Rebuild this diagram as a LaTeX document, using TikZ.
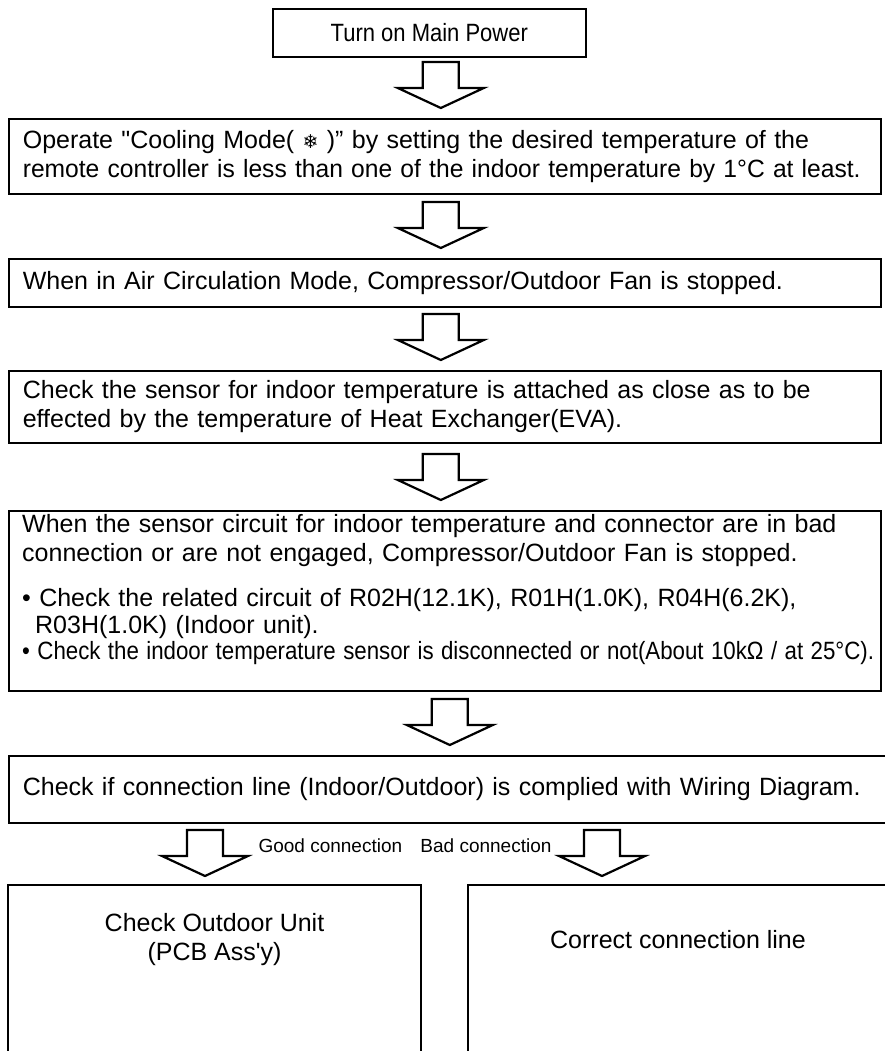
\documentclass[tikz,border=0pt]{standalone}
\usepackage{fontspec}
\usepackage{graphicx}
\newfontfamily\arial{Liberation Sans}
\newfontfamily\symfont{DejaVu Sans}
\usetikzlibrary{positioning,calc}

\newcommand{\boxfont}{\arial\fontsize{25}{29}\selectfont}
\newcommand{\tagfont}{\arial\fontsize{19}{23}\selectfont}

\tikzset{
  boxline/.style={line width=1.6pt},
  widebox/.style={draw, boxline, anchor=north west, minimum width=872pt,
    text width=844pt, inner xsep=14pt, inner ysep=0pt, align=left, font=\boxfont},
  textblock/.style={anchor=north west, inner sep=0pt, text width=856pt, align=left, font=\boxfont},
  arrowline/.style={line width=2.2pt, line join=miter},
  fatarrow/.pic={
    \draw[arrowline] (-18,0) -- (-18,26) -- (-43,26) -- (0,46) -- (43,26) -- (18,26) -- (18,0) -- cycle;
  },
}

\begin{document}
\begin{tikzpicture}[x=1pt, y=-1pt]
    \useasboundingbox (0,0) rectangle (884,1051);

    % Start
    \node[draw, boxline, anchor=north west, minimum width=313pt, minimum height=48pt,
      font=\boxfont] (power) at (272,8) {\scalebox{0.88}[1]{Turn on Main Power}};

    % Cooling mode
    \node[widebox, minimum height=75pt] (cool) at (8,118)
      {Operate "Cooling Mode( {\symfont\fontsize{19}{19}\selectfont ❄} )” by setting the desired temperature of the\\
       \scalebox{0.985}[1]{remote controller is less than one of the indoor temperature by 1°C at least.}};
    \pic at ($(cool.north)+(-4,-56)$) {fatarrow};

    % Air circulation
    \node[widebox, minimum height=48pt] (circ) at (8,258)
      {When in Air Circulation Mode, Compressor/Outdoor Fan is stopped.};
    \pic at ($(circ.north)+(-4,-56)$) {fatarrow};

    % Sensor position
    \node[widebox, minimum height=72pt] (place) at (8,370)
      {Check the sensor for indoor temperature is attached as close as to be\\
       effected by the temperature of Heat Exchanger(EVA).};
    \pic at ($(place.north)+(-4,-56)$) {fatarrow};

    % Sensor circuit
    \node[draw, boxline, anchor=north west, minimum width=872pt, minimum height=180pt] (sensor) at (8,510) {};
    \node[textblock] (sensortext) at ($(sensor.north west)+(14,4)$)
      {When the sensor circuit for indoor temperature and connector are in bad\\
       connection or are not engaged, Compressor/Outdoor Fan is stopped.\\[16pt]
       • Check the related circuit of R02H(12.1K), R01H(1.0K), R04H(6.2K),\\[-2pt]
       \hspace*{13pt}R03H(1.0K) (Indoor unit).\\[-3pt]
       \resizebox{852pt}{\height}{• Check the indoor temperature sensor is disconnected or not(About 10kΩ / at 25°C).}};
    \pic at ($(sensor.north)+(-4,-56)$) {fatarrow};

    % Wiring
    \node[widebox, minimum height=67pt, minimum width=890pt, text width=862pt] (wire) at (8,755)
      {Check if connection line (Indoor/Outdoor) is complied with Wiring Diagram.};
    \pic at ($(wire.north)+(-4,-56)$) {fatarrow};

    % Branches
    \pic at (205,830) {fatarrow};
    \pic at (602,830) {fatarrow};
    \node[font=\tagfont, anchor=west] (good) at (255,846) {Good connection};
    \node[font=\tagfont, anchor=east] (bad) at (555,846) {Bad connection};

    % Results (open at the bottom)
    \node[font=\boxfont, align=center, minimum width=413pt, minimum height=110pt] (outdoor) at (214.5,940)
      {Check Outdoor Unit\\(PCB Ass'y)};
    \draw[boxline] ([yshift=-80pt]outdoor.south west) -- (outdoor.north west)
      -- (outdoor.north east) -- ([yshift=-80pt]outdoor.south east);
    \node[font=\boxfont, minimum width=420pt, minimum height=110pt] (fix) at (678,940)
      {Correct connection line};
    \draw[boxline] ([yshift=-80pt]fix.south west) -- (fix.north west) -- (fix.north east);

\end{tikzpicture}
\end{document}
